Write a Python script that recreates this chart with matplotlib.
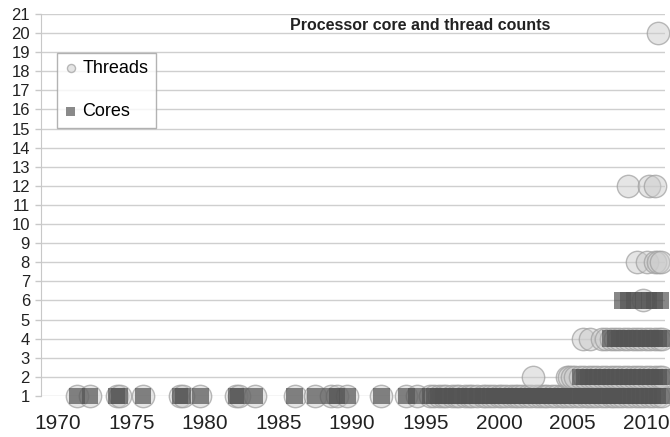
import matplotlib
matplotlib.use("Agg")
import matplotlib.pyplot as plt
import numpy as np

plt.rcParams['font.family'] = ['Liberation Sans', 'DejaVu Sans']

# thread counts (circles)
thr_early = [1971.3, 1972.2, 1974.0, 1974.2, 1975.8, 1978.3, 1978.5, 1979.7,
             1982.1, 1982.3, 1983.4, 1986.1, 1987.5, 1988.6, 1989.0, 1989.7,
             1992.0, 1993.7, 1994.4]
thr_one = [1995.3, 1995.6, 1995.9, 1996.2, 1996.4, 1996.8, 1997.1, 1997.3,
           1997.7, 1998.0, 1998.2, 1998.5, 1998.9, 1999.1, 1999.4, 1999.7,
           2000.0, 2000.2, 2000.5, 2000.8, 2001.1, 2001.3, 2001.6, 2001.9,
           2002.2, 2002.5, 2002.8, 2003.1, 2003.3, 2003.6, 2003.9, 2004.2,
           2004.4, 2004.7, 2005.0, 2005.3, 2005.6, 2005.9, 2006.1, 2006.4,
           2006.7, 2007.0, 2007.3, 2007.6, 2007.8, 2008.1, 2008.4, 2008.7,
           2009.0, 2009.3, 2009.6, 2009.9, 2010.2, 2010.5, 2010.8, 2011.1]
thr_two = [2002.3, 2004.6, 2004.8, 2005.0, 2005.2, 2005.5, 2005.8, 2006.1,
           2006.4, 2006.7, 2007.0, 2007.3, 2007.6, 2007.9, 2008.2, 2008.5,
           2008.8, 2009.1, 2009.4, 2009.7, 2010.0, 2010.3, 2010.6, 2010.9,
           2011.1]
thr_four = [2005.7, 2006.2, 2007.0, 2007.3, 2007.6, 2007.9, 2008.2, 2008.5,
            2008.8, 2009.1, 2009.4, 2009.7, 2010.0, 2010.3, 2010.6, 2010.9,
            2011.1]
thr_six = [2009.8]
thr_eight = [2009.4, 2010.1, 2010.6, 2010.8, 2011.0]
thr_twelve = [2008.8, 2010.2, 2010.6]
thr_twenty = [2010.8]

# core counts (squares)
core_early = thr_early
core_one = thr_one + [2002.3, 2005.7, 2006.2]
core_two = [2005.5, 2005.8, 2006.1, 2006.4, 2006.7, 2007.0, 2007.3, 2007.6,
            2007.9, 2008.2, 2008.5, 2008.8, 2009.1, 2009.4, 2009.7, 2010.0,
            2010.3, 2010.6, 2010.9, 2011.1]
core_four = [2007.6, 2007.9, 2008.2, 2008.5, 2008.8, 2009.1, 2009.4, 2009.7,
             2010.0, 2010.3, 2010.6, 2010.9, 2011.1]
core_six = [2008.4, 2008.8, 2009.2, 2009.8, 2010.2, 2010.6, 2011.0]

thread_x = thr_early + thr_one + thr_two + thr_four + thr_six + thr_eight + thr_twelve + thr_twenty
thread_y = ([1] * (len(thr_early) + len(thr_one)) + [2] * len(thr_two) + [4] * len(thr_four)
            + [6] * len(thr_six) + [8] * len(thr_eight) + [12] * len(thr_twelve) + [20] * len(thr_twenty))
core_x = core_early + core_one + core_two + core_four + core_six
core_y = ([1] * (len(core_early) + len(core_one)) + [2] * len(core_two)
          + [4] * len(core_four) + [6] * len(core_six))

year_ticks = [1970, 1975, 1980, 1985, 1990, 1995, 2000, 2005, 2010]
count_ticks = list(range(1, 22))

fig = plt.figure(figsize=(6.7, 4.37), dpi=100)
ax = fig.add_axes([41 / 670, 1 - 396 / 437, 624 / 670, 382 / 437])

ax.scatter(thread_x, thread_y, s=260, marker='o', facecolor=(0.80, 0.80, 0.80, 0.5),
           edgecolor=(0.62, 0.62, 0.62, 0.7), linewidth=1.0, clip_on=False, zorder=3,
           label='Threads')
ax.scatter(core_x, core_y, s=140, marker='s', facecolor=(0.33, 0.33, 0.33, 0.7),
           edgecolor='none', clip_on=False, zorder=4, label='Cores')

ax.set_xlim(1968.85, 2011.3)
ax.set_ylim(1, 21)
ax.set_xticks(year_ticks)
ax.set_yticks(count_ticks)
ax.tick_params(axis='x', length=0, pad=13, labelsize=15, labelcolor='#222222')
ax.tick_params(axis='y', length=4, width=1, color='#c8c8c8', pad=4,
               labelsize=12, labelcolor='#222222')
ax.grid(axis='y', color='#cfcfcf', linewidth=1.0)
ax.set_axisbelow(True)
for side in ['top', 'right', 'bottom']:
    ax.spines[side].set_visible(False)
ax.spines['left'].set_color('#c8c8c8')

leg = ax.legend(loc='upper left', bbox_to_anchor=((57 - 41) / 624, (396 - 53) / 382),
                fontsize=13, frameon=True, fancybox=False, borderpad=0.4,
                labelspacing=1.45, handletextpad=0.3, handlelength=0.7,
                borderaxespad=0)
leg.get_frame().set_edgecolor('#a0a0a0')
leg.get_frame().set_linewidth(1.0)
leg.legend_handles[0].set_sizes([34])
leg.legend_handles[1].set_sizes([42])
leg.legend_handles[1].set_facecolor('#8a8a8a')

fig.text(420 / 670, 1 - 25 / 437, 'Processor core and thread counts', ha='center',
         va='center', fontsize=11.5, fontweight='bold', color='#222222')

fig.savefig('out.png', dpi=100)
